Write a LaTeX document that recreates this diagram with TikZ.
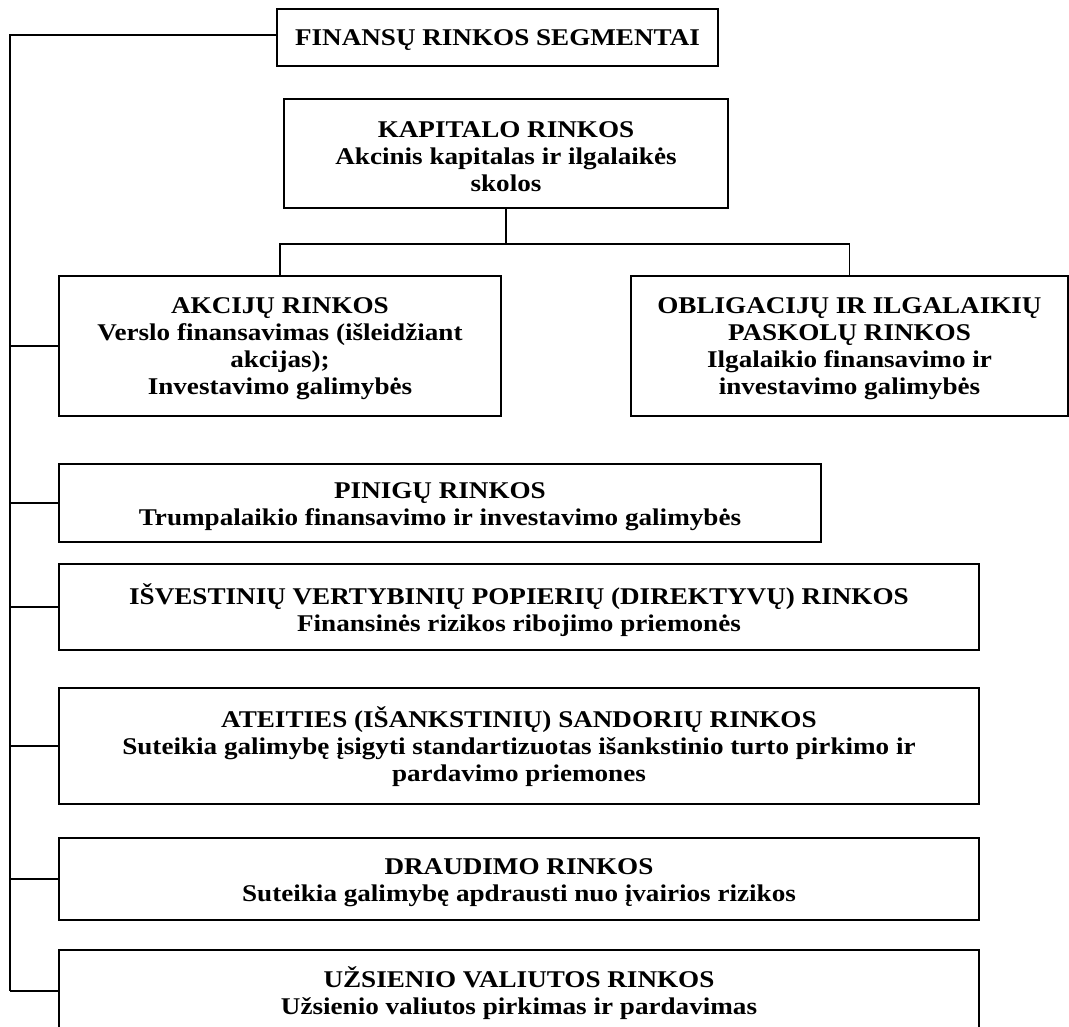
\documentclass[tikz,border=0pt]{standalone}
\usepackage{fontspec}
\setmainfont{Liberation Serif}[FakeStretch=1.13]
\begin{document}
\begin{tikzpicture}[x=1bp,y=-1bp,
  segbox/.style={draw=black, line width=1.1bp, inner sep=0pt},
  segtext/.style={inner sep=0pt, align=center,
    font=\fontsize{24bp}{27bp}\selectfont\bfseries},
  link/.style={draw=black, line width=1.1bp}]
\useasboundingbox (0,0) rectangle (1069,1027);
\clip (0,0) rectangle (1069,1027);

% boxes
\node[segbox, minimum width=441bp, minimum height=57bp]  (root) at (497.5,37.5) {};
\node[segbox, minimum width=444bp, minimum height=109bp] (kap)  at (506,153.5) {};
\node[segbox, minimum width=442bp, minimum height=140bp] (akc)  at (280,346) {};
\node[segbox, minimum width=437bp, minimum height=140bp] (obl)  at (849.5,346) {};
\node[segbox, minimum width=762bp, minimum height=78bp]  (pin)  at (440,503) {};
\node[segbox, minimum width=920bp, minimum height=86bp]  (isv)  at (519,607) {};
\node[segbox, minimum width=920bp, minimum height=116bp] (ate)  at (519,746) {};
\node[segbox, minimum width=920bp, minimum height=82bp]  (dra)  at (519,879) {};
\node[segbox, minimum width=920bp, minimum height=82bp]  (uzs)  at (519,991) {};

% box texts, set slightly below the box centres
\node[segtext] (root-t) at ([yshift=-3bp]root.center) {FINANSŲ RINKOS SEGMENTAI};
\node[segtext] (kap-t) at ([yshift=-3bp]kap.center)
  {KAPITALO RINKOS\\Akcinis kapitalas ir ilgalaikės\\skolos};
\node[segtext] (akc-t) at ([yshift=-3bp]akc.center)
  {AKCIJŲ RINKOS\\Verslo finansavimas (išleidžiant\\akcijas);\\Investavimo galimybės};
\node[segtext] (obl-t) at ([yshift=-3bp]obl.center)
  {OBLIGACIJŲ IR ILGALAIKIŲ\\PASKOLŲ RINKOS\\Ilgalaikio finansavimo ir\\investavimo galimybės};
\node[segtext] (pin-t) at ([yshift=-4bp]pin.center)
  {PINIGŲ RINKOS\\Trumpalaikio finansavimo ir investavimo galimybės};
\node[segtext] (isv-t) at ([yshift=-3bp]isv.center)
  {IŠVESTINIŲ VERTYBINIŲ POPIERIŲ (DIREKTYVŲ) RINKOS\\Finansinės rizikos ribojimo priemonės};
\node[segtext] (ate-t) at ([yshift=-1bp]ate.center)
  {ATEITIES (IŠANKSTINIŲ) SANDORIŲ RINKOS\\Suteikia galimybę įsigyti standartizuotas išankstinio turto pirkimo ir\\pardavimo priemones};
\node[segtext] (dra-t) at ([yshift=-4bp]dra.center)
  {DRAUDIMO RINKOS\\Suteikia galimybę apdrausti nuo įvairios rizikos};
\node[segtext] (uzs-t) at ([yshift=-2bp]uzs.center)
  {UŽSIENIO VALIUTOS RINKOS\\Užsienio valiutos pirkimas ir pardavimas};

% connectors
\coordinate (trunktop) at (10,35);
\coordinate (trunkend) at (10,991);
\draw[link] (root.west |- trunktop) -- (trunktop) -- (trunkend);
\foreach \n in {akc,pin,isv,ate,dra,uzs}
  \draw[link] (\n.west) -- (\n.west -| trunktop);

\coordinate (split) at (506,244);
\draw[link] (kap.south) -- (split);
\draw[link] (akc.north) |- (split) -| (obl.north);
\end{tikzpicture}
\end{document}
